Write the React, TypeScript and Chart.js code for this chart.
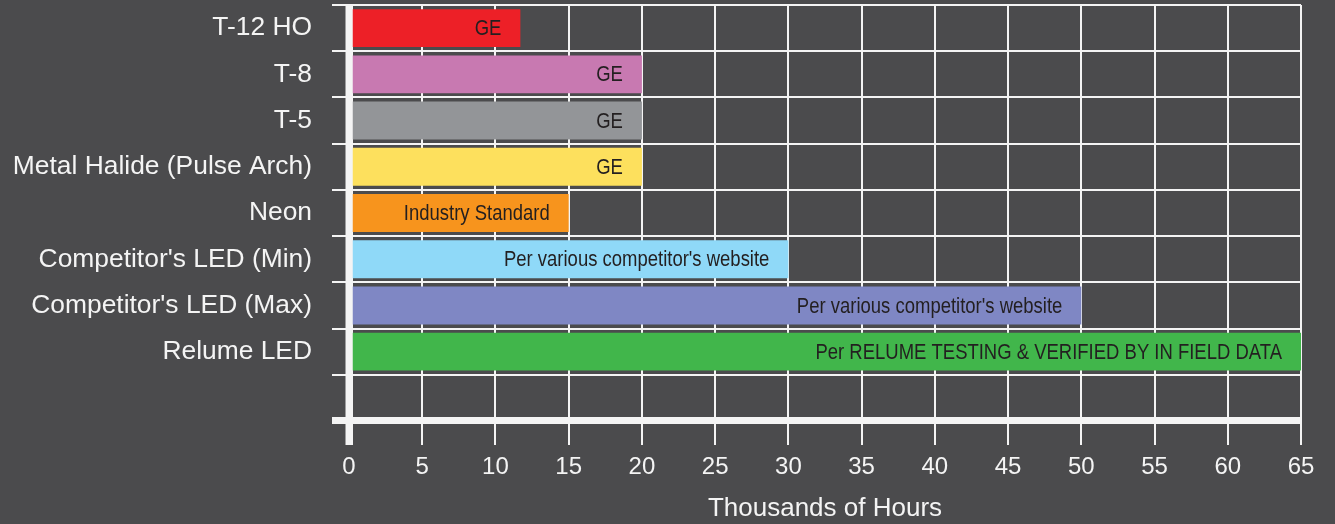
import React, { useEffect, useRef } from "react";
import { Chart, registerables } from "chart.js";

Chart.register(...registerables);

const categories = [
  "T-12 HO",
  "T-8",
  "T-5",
  "Metal Halide (Pulse Arch)",
  "Neon",
  "Competitor's LED (Min)",
  "Competitor's LED (Max)",
  "Relume LED",
  "",
];
const hours = [11.7, 20, 20, 20, 15, 30, 50, 65, null];
const barColors = [
  "#ed2027",
  "#c879b1",
  "#939598",
  "#fde05d",
  "#f7941d",
  "#8fd9f8",
  "#7f87c4",
  "#41b64b",
  "#000000",
];
const notes = [
  "GE",
  "GE",
  "GE",
  "GE",
  "Industry Standard",
  "Per various competitor's website",
  "Per various competitor's website",
  "Per RELUME TESTING & VERIFIED BY IN FIELD DATA",
  "",
];
const xTitle = "Thousands of Hours";
const xMin = 0;
const xMax = 65;
const xStep = 5;

const BG = "#4b4b4d";
const GRID = "#f4f4f4";
const SANS = "'Liberation Sans', Arial, Helvetica, sans-serif";
const CONDENSE = 0.84;

const notesPlugin = {
  id: "barNotes",
  afterDatasetsDraw(chart: any) {
    const ctx = chart.ctx;
    const xs = chart.scales.x;
    const area = chart.chartArea;
    // redraw the thick zero line over the bars
    const x0 = xs.getPixelForValue(0);
    ctx.save();
    ctx.fillStyle = GRID;
    ctx.fillRect(x0 - 3.5, area.top - 1, 7, area.bottom - area.top + 25);
    ctx.restore();

    const meta = chart.getDatasetMeta(0);
    meta.data.forEach((el: any, i: number) => {
      const t = notes[i];
      if (!t || hours[i] == null) return;
      ctx.save();
      ctx.fillStyle = "#231f20";
      ctx.textAlign = "right";
      ctx.textBaseline = "middle";
      ctx.font = "22px " + SANS;
      ctx.translate(el.x - 19, el.y + 1);
      ctx.scale(CONDENSE, 1);
      ctx.fillText(t, 0, 0);
      ctx.restore();
    });
  },
};

export default function App() {
  const ref = useRef<HTMLCanvasElement | null>(null);

  useEffect(() => {
    if (!ref.current) return;
    const chart = new Chart(ref.current, {
      type: "bar",
      data: {
        labels: categories,
        datasets: [
          {
            data: hours as any,
            backgroundColor: barColors,
            borderWidth: 0,
            barPercentage: 0.82,
            categoryPercentage: 1,
          },
        ],
      },
      options: {
        indexAxis: "y",
        animation: false,
        responsive: false,
        maintainAspectRatio: false,
        layout: { padding: { top: 5, right: 34, left: 0, bottom: 0 } },
        plugins: {
          legend: { display: false },
          tooltip: { enabled: false },
        },
        scales: {
          x: {
            type: "linear",
            min: xMin,
            max: xMax,
            ticks: {
              stepSize: xStep,
              color: "#f4f4f4",
              font: { family: SANS, size: 24 },
              padding: 8,
              maxRotation: 0,
            },
            grid: {
              color: GRID,
              lineWidth: (c: any) => (c.tick && c.tick.value === 0 ? 7 : 2),
              tickLength: 24,
            },
            border: { display: false },
            title: {
              display: true,
              text: xTitle,
              color: "#f4f4f4",
              font: { family: SANS, size: 26 },
              padding: { top: 0, bottom: 0 },
            },
            afterFit: (s: any) => {
              s.height = 103;
            },
          },
          y: {
            type: "category",
            ticks: {
              color: "#f4f4f4",
              font: { family: SANS, size: 26.4 },
              padding: 20,
            },
            grid: {
              color: GRID,
              offset: true,
              lineWidth: (c: any) => (c.type === "scale" || c.index === undefined ? 7 : 2),
              tickLength: 17,
            },
            border: { display: false },
            afterFit: (s: any) => {
              s.width = 349;
              s.paddingTop = 0;
              s.paddingBottom = 0;
            },
          },
        },
      },
      plugins: [notesPlugin],
    });
    return () => chart.destroy();
  }, []);

  return (
    <div
      style={{
        position: "fixed",
        left: 0,
        top: 0,
        width: 1335,
        height: 524,
        background: BG,
      }}
    >
      <canvas ref={ref} width={1335} height={524} style={{ display: "block" }} />
    </div>
  );
}
